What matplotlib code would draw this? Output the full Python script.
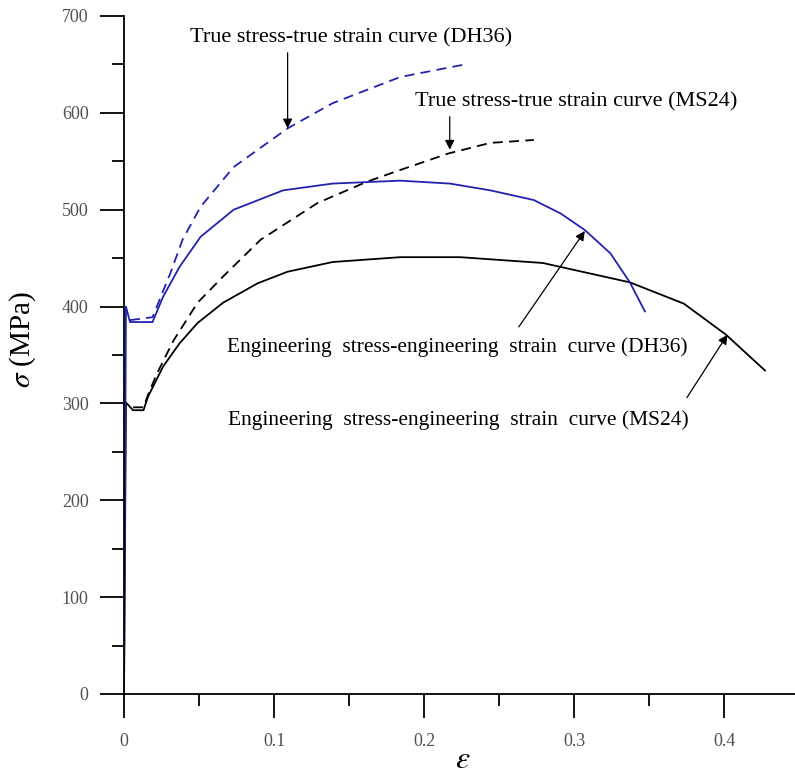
import numpy as np
import matplotlib
matplotlib.use("Agg")
import matplotlib.pyplot as plt

plt.rcParams["font.family"] = ["Liberation Serif", "DejaVu Serif"]
plt.rcParams["mathtext.fontset"] = "stix"

# DH36 engineering stress-strain (blue solid)
dh36_eng_x = [0, 0.0013, 0.004, 0.019, 0.026, 0.037, 0.051, 0.073, 0.106, 0.139,
              0.184, 0.217, 0.244, 0.273, 0.291, 0.307, 0.324, 0.337, 0.347]
dh36_eng_y = [0, 400, 384, 384, 410, 441, 472, 500, 520, 527,
              530, 527, 520, 510, 496, 479, 455, 425, 395]

# DH36 true stress-strain (blue dashed)
dh36_true_x = [0.004, 0.019, 0.031, 0.039, 0.051, 0.073, 0.109, 0.139, 0.184, 0.227]
dh36_true_y = [386, 389, 435, 469, 503, 544, 584, 610, 637, 650]

# MS24 engineering stress-strain (black solid)
ms24_eng_x = [0, 0.0013, 0.006, 0.013, 0.016, 0.026, 0.037, 0.049, 0.066, 0.089,
              0.109, 0.139, 0.184, 0.224, 0.279, 0.337, 0.373, 0.401, 0.427]
ms24_eng_y = [0, 301, 293, 293, 307, 338, 362, 383, 404, 424,
              436, 446, 451, 451, 445, 425, 403, 371, 334]

# MS24 true stress-strain (black dashed)
ms24_true_x = [0.006, 0.013, 0.016, 0.022, 0.033, 0.049, 0.066, 0.091, 0.129,
               0.162, 0.184, 0.216, 0.244, 0.273]
ms24_true_y = [296, 296, 309, 331, 365, 404, 431, 469, 507,
               529, 541, 558, 569, 572]

labels = [
    "True stress-true strain curve (DH36)",
    "True stress-true strain curve (MS24)",
    "Engineering  stress-engineering  strain  curve (DH36)",
    "Engineering  stress-engineering  strain  curve (MS24)",
]

blue = "#2222b0"

fig = plt.figure(figsize=(7.95, 7.80), dpi=100)
ax = fig.add_axes([124 / 795, 1 - 694 / 780, 1 - 124 / 795, 678 / 780])

dash = (0, (5.5, 3.5))
ax.plot(ms24_eng_x, ms24_eng_y, color="black", lw=1.3)
ax.plot(ms24_true_x, ms24_true_y, color="black", lw=1.3, linestyle=dash)
ax.plot(dh36_eng_x, dh36_eng_y, color=blue, lw=1.3)
ax.plot(dh36_true_x, dh36_true_y, color=blue, lw=1.3, linestyle=dash)

ax.set_xlim(0, 0.447)
ax.set_ylim(0, 700)
ax.set_xticks([0, 0.1, 0.2, 0.3, 0.4])
ax.set_xticklabels(["0", "0.1", "0.2", "0.3", "0.4"])
ax.set_xticks(np.arange(0.05, 0.45, 0.1), minor=True)
ax.set_yticks(np.arange(0, 701, 100))
ax.set_yticks(np.arange(50, 700, 100), minor=True)

for s in ["top", "right"]:
    ax.spines[s].set_visible(False)
for s in ["left", "bottom"]:
    ax.spines[s].set_linewidth(1.3)

ax.tick_params(which="major", direction="out", length=17, width=1.3,
               labelsize=13, labelcolor="#505050", pad=8.5)
ax.tick_params(which="minor", direction="out", length=8.5, width=1.3)
ax.tick_params(axis="x", which="major", pad=11)

ax.set_ylabel(r"$\sigma$ (MPa)", fontsize=21)
ax.yaxis.label.set_va("center")
ax.yaxis.set_label_coords((23 - 124) / 671, (694 - 339) / 678)
ax.set_xlabel(r"$\varepsilon$", fontsize=23)
ax.xaxis.label.set_va("center")
ax.xaxis.set_label_coords((463 - 124) / 671, (694 - 760) / 678)

arrow = dict(arrowstyle="-|>", color="black", lw=0.9, mutation_scale=14,
             shrinkA=0, shrinkB=0)
ax.text(0.151, 677, labels[0], fontsize=16, ha="center", va="center")
ax.annotate("", xy=(0.109, 584), xytext=(0.109, 662), arrowprops=arrow)
ax.text(0.301, 611, labels[1], fontsize=16, ha="center", va="center")
ax.annotate("", xy=(0.217, 562), xytext=(0.217, 596), arrowprops=arrow)
ax.text(0.222, 358, labels[2], fontsize=15.5, ha="center", va="center")
ax.annotate("", xy=(0.307, 478), xytext=(0.263, 379), arrowprops=arrow)
ax.text(0.223, 283, labels[3], fontsize=15.5, ha="center", va="center")
ax.annotate("", xy=(0.402, 371), xytext=(0.375, 306), arrowprops=arrow)

fig.savefig("out.png", dpi=100)
